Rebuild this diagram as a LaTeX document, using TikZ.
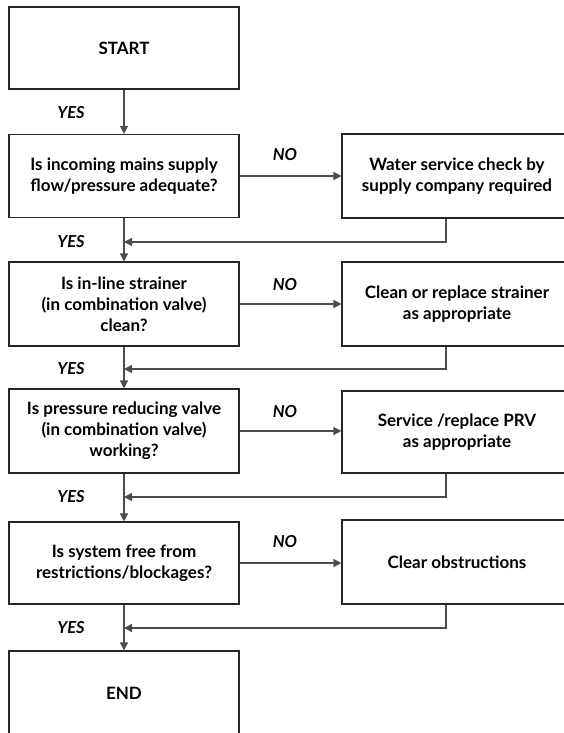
\documentclass[tikz,border=0pt]{standalone}
\usepackage{fontspec}
\setmainfont{Lato}
\usetikzlibrary{arrows.meta}
\tikzset{
  box/.style={draw=black!85, line width=1.1pt, rectangle, minimum width=230pt, align=center, inner sep=0pt, font=\bfseries\fontsize{17}{21}\selectfont},
  lbl/.style={font=\bfseries\itshape\fontsize{16.5}{18}\selectfont, inner sep=0pt},
  conn/.style={draw=black!70, line width=1.3pt},
  arr/.style={conn, -{Triangle[length=8pt,width=8pt]}}
}
\begin{document}
\begin{tikzpicture}[x=1pt,y=-1pt]
\useasboundingbox (0,0) rectangle (564,733);
\clip (0,0) rectangle (564,733);
\fill[white] (0,0) rectangle (564,733);
% left column
\node[box, minimum height=82pt] (start) at (124,48) {START};
\node[box, minimum height=83pt] (q1) at (124,176) {Is incoming mains supply\\flow/pressure adequate?};
\node[box, minimum height=84pt] (q2) at (124,304) {Is in-line strainer\\(in combination valve)\\clean?};
\node[box, minimum height=84pt] (q3) at (124,431) {Is pressure reducing valve\\(in combination valve)\\working?};
\node[box, minimum height=82pt] (q4) at (124,563) {Is system free from\\restrictions/blockages?};
\node[box, minimum height=84pt] (end) at (124,693) {END};
% right column
\node[box, minimum height=84pt] (r1) at (457,176) {Water service check by\\supply company required};
\node[box, minimum height=84pt] (r2) at (457,304) {Clean or replace strainer\\as appropriate};
\node[box, minimum height=82pt] (r3) at (457,432) {Service /replace PRV\\as appropriate};
\node[box, minimum height=84pt] (r4) at (457,562) {Clear obstructions};
% return coordinates
\coordinate (c1) at (446,242);
\coordinate (c2) at (446,369);
\coordinate (c3) at (446,497);
\coordinate (c4) at (446,628);
% vertical flow
\draw[arr] (start.south) -- (q1.north);
\draw[arr] (q1.south) -- (q2.north);
\draw[arr] (q2.south) -- (q3.north);
\draw[arr] (q3.south) -- (q4.north);
\draw[arr] (q4.south) -- (end.north);
% NO branches
\draw[arr] (q1.east) -- (r1.west |- q1.east);
\draw[arr] (q2.east) -- (r2.west |- q2.east);
\draw[arr] (q3.east) -- (r3.west |- q3.east);
\draw[arr] (q4.east) -- (r4.west |- q4.east);
% returns
\draw[arr] (r1.south -| c1) -- (c1) -- (q1.south |- c1);
\draw[arr] (r2.south -| c2) -- (c2) -- (q2.south |- c2);
\draw[arr] (r3.south -| c3) -- (c3) -- (q3.south |- c3);
\draw[arr] (r4.south -| c4) -- (c4) -- (q4.south |- c4);
% labels
\node[lbl] (y0) at (71,113) {YES};
\node[lbl] (y1) at (71,242) {YES};
\node[lbl] (y2) at (71,369) {YES};
\node[lbl] (y3) at (71,497) {YES};
\node[lbl] (y4) at (71,628) {YES};
\node[lbl] (n1) at (285,155) {NO};
\node[lbl] (n2) at (285,285) {NO};
\node[lbl] (n3) at (285,412) {NO};
\node[lbl] (n4) at (285,542) {NO};
\end{tikzpicture}
\end{document}
